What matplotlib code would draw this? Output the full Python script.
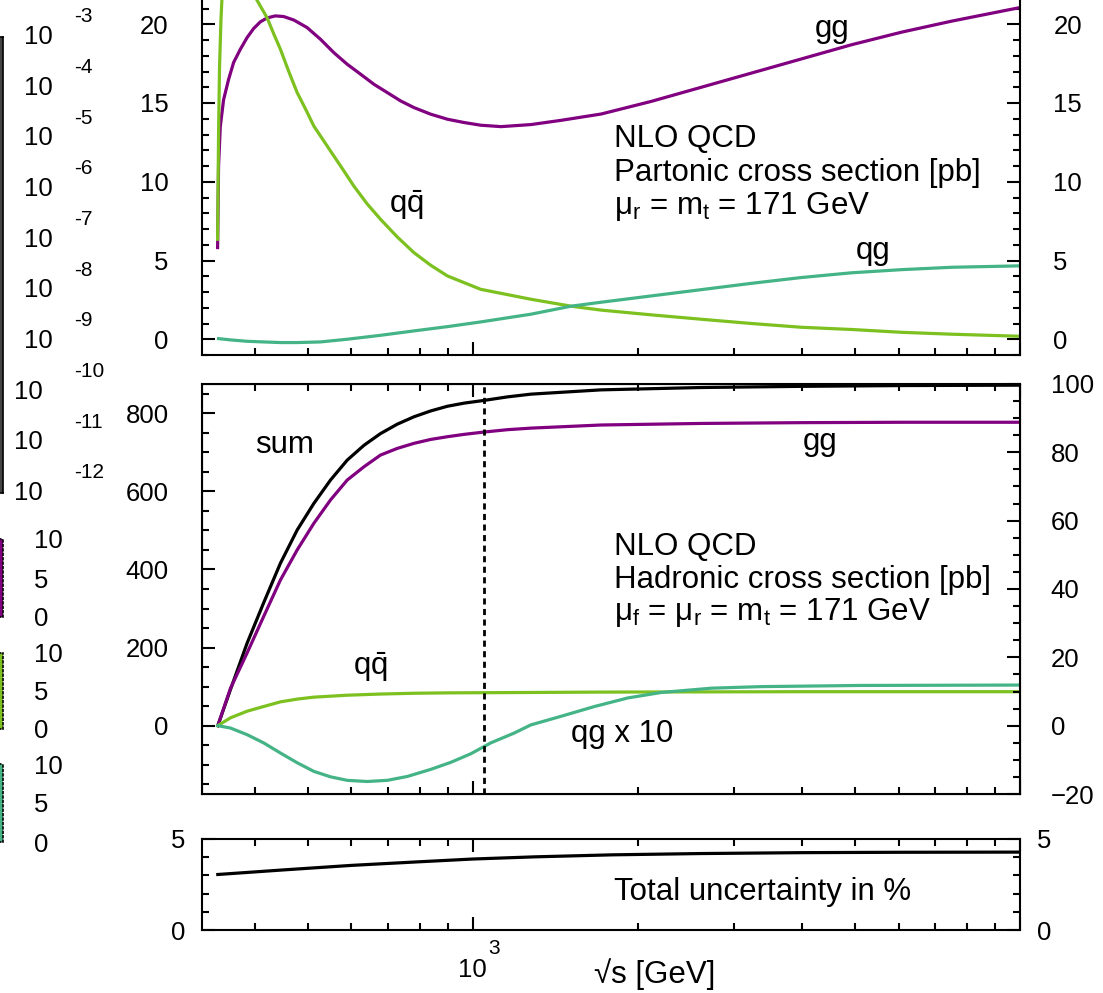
import numpy as np
import matplotlib.pyplot as plt
from matplotlib.ticker import MultipleLocator, LogLocator, FixedLocator, NullFormatter

plt.rcParams['font.family'] = ['Liberation Sans', 'DejaVu Sans']
plt.rcParams['mathtext.fontset'] = 'custom'
plt.rcParams['mathtext.rm'] = 'Liberation Sans'
plt.rcParams['mathtext.it'] = 'Liberation Sans:italic'
plt.rcParams['font.size'] = 18.5
lab_fs = 22.5

# colours
c_gg = '#800080'
c_qq = '#7cc11f'
c_qg = '#44b487'

# --- partonic cross section [pb] vs sqrt(s) [GeV]
part_gg_x = [341.7, 343.1, 345.6, 350.4, 357.9, 365.5, 376.0, 386.8, 397.7, 409.0, 420.7,
             435.7, 451.2, 470.8, 498.0, 526.7, 557.2, 589.5, 623.6, 659.6, 697.9, 738.3,
             780.6, 837.6, 898.7, 964.0, 1034, 1126, 1277, 1450, 1716, 2118, 2616, 3230,
             3988, 4923, 6080, 7508, 10000]
part_gg_y = [5.82, 11.0, 13.5, 15.2, 16.5, 17.57, 18.41, 19.15, 19.73, 20.15, 20.4,
             20.53, 20.49, 20.27, 19.79, 19.05, 18.2, 17.46, 16.83, 16.19, 15.66, 15.13,
             14.71, 14.29, 13.97, 13.76, 13.59, 13.5, 13.63, 13.9, 14.3, 15.1, 16.0, 16.9,
             17.8, 18.7, 19.5, 20.2, 21.06]
part_qq_x = [341.7, 343.1, 344.5, 346.6, 348.0, 352, 360, 370, 380, 392, 402.2, 420.7,
             432.6, 445.1, 461, 477.6, 495, 512.2, 534, 557.2, 581, 606.1, 641.0, 678.2,
             727.5, 780.6, 837.6, 898.7, 1034, 1277, 1512, 1716, 2118, 2616, 3230, 3988,
             4923, 6080, 7508, 10000]
part_qq_y = [6.35, 13.1, 17.3, 20.3, 21.6, 23.5, 25.0, 25.5, 25.0, 23.5, 21.6, 20.42,
             19.4, 18.41, 17.0, 15.66, 14.6, 13.54, 12.6, 11.64, 10.7, 9.73, 8.6, 7.62,
             6.5, 5.5, 4.7, 4.02, 3.17, 2.54, 2.1, 1.85, 1.55, 1.27, 1.0, 0.76, 0.62,
             0.44, 0.32, 0.19]
part_qg_x = [343.1, 360.6, 386.8, 414.6, 445.1, 477.6, 526.7, 589.5, 678.2, 780.6, 898.7,
             1034, 1277, 1512, 1716, 2118, 2616, 3230, 3988, 4923, 6080, 7508, 10000]
part_qg_y = [0.04, -0.04, -0.13, -0.17, -0.21, -0.21, -0.17, 0.0, 0.25, 0.53, 0.8, 1.1,
             1.59, 2.1, 2.35, 2.75, 3.15, 3.55, 3.92, 4.22, 4.42, 4.57, 4.66]

# --- hadronic cross section [pb]
had_x = [342, 360.6, 386.8, 414.6, 445.1, 477.6, 512.2, 549.5, 589.5, 632.6, 678.2, 727.5,
         780.6, 837.6, 898.7, 964.0, 1049, 1157, 1277, 1716, 2616, 3988, 6080, 10000]
had_sum = [0, 92, 211, 314, 416, 501, 569, 629, 680, 718, 748, 772, 791, 806, 818, 826,
           833, 842, 849, 860, 866, 869, 871, 872]
had_gg = [0, 95, 186, 279, 373, 450, 518, 578, 629, 663, 693, 710, 723, 733, 740, 746,
          752, 758, 762, 770, 774, 776, 777, 777]
had_qq_x = [342, 360.6, 386.8, 414.6, 445.1, 477.6, 512.2, 589.5, 678.2, 780.6, 898.7,
            1277, 1716, 3988, 10000]
had_qq_y = [0, 20, 37, 49, 61, 68, 73, 78, 81, 83, 84, 85, 86, 87, 87]
had_qg10_x = [342, 360.6, 386.8, 414.6, 445.1, 477.6, 512.2, 549.5, 589.5, 641.0, 697.9,
              759.5, 837.6, 911.4, 991.6, 1079, 1190, 1277, 1450, 1668, 1920, 2210, 2729,
              3366, 5128, 10000]
had_qg10_y = [0, -6, -23, -44, -70, -95, -117, -131, -140, -143, -140, -130, -112, -94,
              -72, -44, -19, 2, 24, 49, 71, 85, 96, 100, 103, 104]

# --- total uncertainty [%]
unc_x = [342, 450, 600, 800, 1000, 1300, 1800, 2600, 4000, 6000, 10000]
unc_y = [3.05, 3.3, 3.55, 3.75, 3.9, 4.02, 4.13, 4.2, 4.25, 4.27, 4.28]

# left strip (cropped colour boxes)
cbar_exps = [-3, -4, -5, -6, -7, -8, -9, -10, -11, -12]
small_cbars = [(c_gg, 539, 617), (c_qq, 653, 729), (c_qg, 764, 842)]
small_ticks = [0, 5, 10]

W, H = 1103, 993
fig = plt.figure(figsize=(W / 100, H / 100), dpi=100)


def px_axes(x0, y0, x1, y1):
    return fig.add_axes([x0 / W, 1 - y1 / H, (x1 - x0) / W, (y1 - y0) / H])


ax1 = px_axes(202, -23, 1020, 355)
ax2 = px_axes(202, 384, 1020, 794)
ax3 = px_axes(202, 839, 1020, 930)

for ax in (ax1, ax2, ax3):
    ax.set_xscale('log')
    ax.set_xlim(320, 10000)
    ax.xaxis.set_major_locator(FixedLocator([1000, 10000]))
    ax.xaxis.set_minor_locator(LogLocator(subs=np.arange(2, 10)))
    ax.xaxis.set_major_formatter(NullFormatter())
    ax.xaxis.set_minor_formatter(NullFormatter())
    for s in ax.spines.values():
        s.set_linewidth(1.5)
    ax.tick_params(which='both', direction='in', top=True, width=1.5)
    ax.tick_params(which='major', length=9.5)
    ax.tick_params(which='minor', length=5)

lw = 2.3

# top panel
ax1.plot(part_gg_x, part_gg_y, color=c_gg, lw=lw)
ax1.plot(part_qq_x, part_qq_y, color=c_qq, lw=lw)
ax1.plot(part_qg_x, part_qg_y, color=c_qg, lw=lw)
ax1.set_ylim(-1, 23)
ax1.yaxis.set_major_locator(MultipleLocator(5))
ax1.yaxis.set_minor_locator(MultipleLocator(1))
ax1.tick_params(axis='y', which='both', right=True, labelright=True)
ax1.tick_params(axis='y', which='major', pad=24)
ax1.text(4530, 19.2, 'gg', ha='center', va='baseline', fontsize=lab_fs)
ax1.text(702, 8.0, r'q$\bar{\mathrm{q}}$', ha='left', va='baseline', fontsize=lab_fs)
ax1.text(5400, 5.1, 'qg', ha='center', va='baseline', fontsize=lab_fs)
ax1.text(1811, 12.2, 'NLO QCD', ha='left', va='baseline', fontsize=lab_fs)
ax1.text(1811, 10.05, 'Partonic cross section [pb]', ha='left', va='baseline', fontsize=lab_fs)
ax1.text(1811, 7.95, r'μ$_\mathrm{r}$ = m$_\mathrm{t}$ = 171 GeV', ha='left', va='baseline',
         fontsize=lab_fs)

# middle panel
ax2.plot(had_x, had_sum, color='black', lw=lw)
ax2.plot(had_x, had_gg, color=c_gg, lw=lw)
ax2.plot(had_qq_x, had_qq_y, color=c_qq, lw=lw)
ax2.plot(had_qg10_x, had_qg10_y, color=c_qg, lw=lw)
ax2.axvline(1050, color='black', lw=2, ls=(0, (2.2, 1.6)))
ax2.set_ylim(-175, 875)
ax2.yaxis.set_major_locator(MultipleLocator(200))
ax2.yaxis.set_minor_locator(MultipleLocator(50))
ax2.tick_params(axis='y', which='major', pad=24)
ax2r = ax2.twinx()
ax2r.set_ylim(-20, 100)
ax2r.yaxis.set_major_locator(MultipleLocator(20))
ax2r.yaxis.set_minor_locator(MultipleLocator(5))
ax2r.tick_params(which='both', direction='in', width=1.5)
ax2r.tick_params(which='major', length=9.5, pad=22)
ax2r.tick_params(which='minor', length=5)
ax2.text(400, 698, 'sum', ha='left', va='baseline', fontsize=lab_fs)
ax2.text(4320, 705, 'gg', ha='center', va='baseline', fontsize=lab_fs)
ax2.text(603, 130, r'q$\bar{\mathrm{q}}$', ha='left', va='baseline', fontsize=lab_fs)
ax2.text(1512, -41, 'qg x 10', ha='left', va='baseline', fontsize=lab_fs)
ax2.text(1811, 437, 'NLO QCD', ha='left', va='baseline', fontsize=lab_fs)
ax2.text(1811, 353, 'Hadronic cross section [pb]', ha='left', va='baseline', fontsize=lab_fs)
ax2.text(1811, 271, r'μ$_\mathrm{f}$ = μ$_\mathrm{r}$ = m$_\mathrm{t}$ = 171 GeV',
         ha='left', va='baseline', fontsize=lab_fs)

# bottom panel
ax3.plot(unc_x, unc_y, color='black', lw=lw)
ax3.set_ylim(0, 5)
ax3.yaxis.set_major_locator(MultipleLocator(5))
ax3.yaxis.set_minor_locator(MultipleLocator(1))
ax3.tick_params(axis='y', which='both', right=True, labelright=True)
ax3.tick_params(axis='y', which='major', pad=12)
ax3.text(1811, 1.67, 'Total uncertainty in %', ha='left', va='baseline', fontsize=lab_fs)
ax3.annotate('10', xy=(1000, 0), xycoords=('data', 'axes fraction'), xytext=(0, -40),
             textcoords='offset pixels', ha='center', va='center')
ax3.annotate('3', xy=(1000, 0), xycoords=('data', 'axes fraction'), xytext=(21, -19),
             textcoords='offset pixels', ha='center', va='center', fontsize=15)
ax3.text(0.554, -0.49, '√s [GeV]', transform=ax3.transAxes, ha='center', va='center',
         fontsize=lab_fs)

# left strip: cropped log colour box
cb0 = px_axes(-10, 37, 3, 493)
cb0.set_facecolor('#444444')
cb0.set_yscale('log')
cb0.set_ylim(10.0 ** cbar_exps[-1], 10.0 ** cbar_exps[0])
cb0.set_xticks([])
cb0.set_yticks([])
cb0.minorticks_off()
for s in cb0.spines.values():
    s.set_linewidth(1.2)
for e in cbar_exps:
    off = 50 if len(str(e)) == 2 else 40
    cb0.annotate('10', xy=(1, 10.0 ** e), xycoords=('axes fraction', 'data'),
                 xytext=(off, 0), textcoords='offset pixels', ha='right', va='center')
    cb0.annotate(str(e), xy=(1, 10.0 ** e), xycoords=('axes fraction', 'data'),
                 xytext=(71, 20), textcoords='offset pixels', ha='left', va='center',
                 fontsize=15)

for col, y0, y1 in small_cbars:
    cb = px_axes(-10, y0, 3, y1)
    cb.set_facecolor(col)
    cb.set_ylim(0, 10)
    cb.set_xticks([])
    cb.yaxis.tick_right()
    cb.set_yticks(small_ticks)
    cb.set_yticklabels([str(t) for t in small_ticks])
    cb.tick_params(axis='y', length=0, pad=22)
    for tl in cb.get_yticklabels():
        tl.set_horizontalalignment('left')
    for s in cb.spines.values():
        s.set_linewidth(1.2)
        s.set_linestyle(':')

fig.savefig('out.png', dpi=100)
